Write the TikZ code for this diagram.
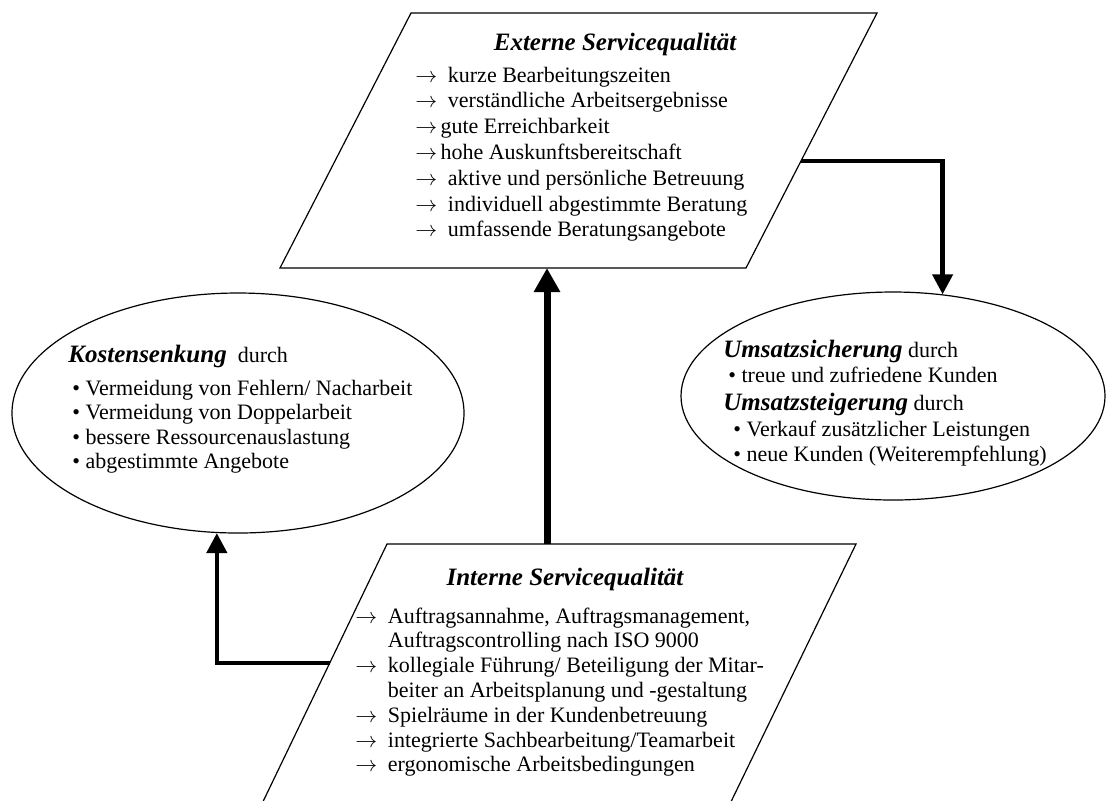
\documentclass[tikz,border=0pt]{standalone}
\usepackage{fontspec}
\setmainfont{Liberation Serif}
\usetikzlibrary{arrows.meta,shapes.geometric}

\tikzset{
  rahmen/.style={draw=black, line width=0.6pt, line join=miter},
  blase/.style={ellipse, draw=black, line width=0.6pt, inner sep=0pt,
    minimum width=#1},
  zeile/.style={anchor=base west, inner sep=0pt,
    font=\fontsize{11}{13}\selectfont},
  titel/.style={anchor=base, inner sep=0pt,
    font=\fontsize{12.5}{15}\selectfont\bfseries\itshape},
  flussarrow/.style={-{Triangle[length=10pt, width=10pt]}, line width=2.2pt},
  hauptarrow/.style={-{Triangle[length=12pt, width=12.5pt]}, line width=3.5pt},
}
\newcommand{\pfeil}{\makebox[16.25pt][l]{$\rightarrow$}}
\newcommand{\kurzpfeil}{$\rightarrow$\hspace{1.6pt}}
\newcommand{\einzug}{\hspace*{16.25pt}}
\newcommand{\stark}[1]{{\fontsize{12.5}{15}\selectfont\bfseries\itshape #1}}

\begin{document}
\begin{tikzpicture}[x=0.5pt, y=-0.5pt]
  \useasboundingbox (0,0) rectangle (1106,800);

  % Externe Servicequalitaet (oben)
  \draw[rahmen] (411,13) -- (877,13) -- (746,268) -- (280,268) -- cycle;
  \coordinate (extR) at (801,161);
  \coordinate (extB) at (547,268);
  \node[titel] (exttitel) at (615,50) {Externe Servicequalität};
  \foreach \inhalt [count=\i from 0] in {
      {\pfeil kurze Bearbeitungszeiten},
      {\pfeil verständliche Arbeitsergebnisse},
      {\kurzpfeil gute Erreichbarkeit},
      {\kurzpfeil hohe Auskunftsbereitschaft},
      {\pfeil aktive und persönliche Betreuung},
      {\pfeil individuell abgestimmte Beratung},
      {\pfeil umfassende Beratungsangebote}}
    \node[zeile] (ext\i) at (415,82+25.8*\i) {\inhalt};

  % Interne Servicequalitaet (unten)
  \draw[rahmen] (387,544) -- (856,544) -- (726,812) -- (258,812) -- cycle;
  \coordinate (intT) at (547,544);
  \coordinate (intL) at (330,663);
  \node[titel] (inttitel) at (565,585) {Interne Servicequalität};
  \foreach \inhalt [count=\i from 0] in {
      {\pfeil Auftragsannahme, Auftragsmanagement,},
      {\einzug Auftragscontrolling nach ISO 9000},
      {\pfeil kollegiale Führung/ Beteiligung der Mitar-},
      {\einzug beiter an Arbeitsplanung und -gestaltung},
      {\pfeil Spielräume in der Kundenbetreuung},
      {\pfeil integrierte Sachbearbeitung/Teamarbeit},
      {\pfeil ergonomische Arbeitsbedingungen}}
    \node[zeile] (int\i) at (355,623+24.8*\i) {\inhalt};

  % Kostensenkung
  \node[blase=226pt, minimum height=120pt] (kosten) at (238,413) {};
  \node[zeile] (kostentitel) at (68,362) {\stark{Kostensenkung}\ \ durch};
  \foreach \inhalt [count=\i from 0] in {
      {• Vermeidung von Fehlern/ Nacharbeit},
      {• Vermeidung von Doppelarbeit},
      {• bessere Ressourcenauslastung},
      {• abgestimmte Angebote}}
    \node[zeile] (kosten\i) at (72,395+24.5*\i) {\inhalt};

  % Umsatz
  \node[blase=212pt, minimum height=104pt] (umsatz) at (893,396) {};
  \node[zeile] (sicherung) at (723,357) {\stark{Umsatzsicherung} durch};
  \node[zeile] (sicherung1) at (728,382) {• treue und zufriedene Kunden};
  \node[zeile] (steigerung) at (723,410) {\stark{Umsatzsteigerung} durch};
  \node[zeile] (steigerung1) at (733,436) {• Verkauf zusätzlicher Leistungen};
  \node[zeile] (steigerung2) at (733,461) {• neue Kunden (Weiterempfehlung)};

  % Pfeile
  \draw[hauptarrow] (intT) -- (extB);
  \draw[flussarrow] (extR) -| (umsatz.64);
  \draw[flussarrow] (intL) -| (kosten.260);
\end{tikzpicture}
\end{document}
